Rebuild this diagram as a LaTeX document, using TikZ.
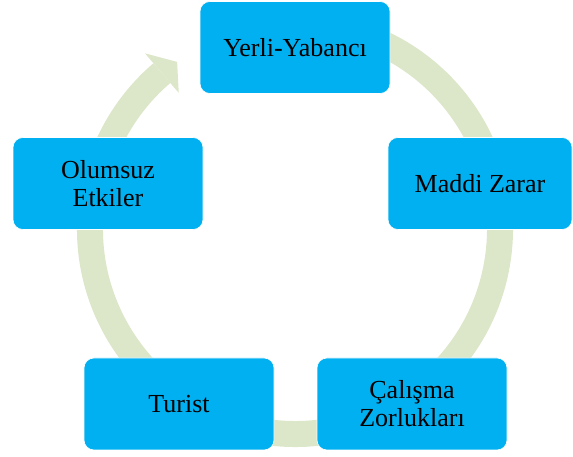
\documentclass[tikz,border=0pt]{standalone}
\usepackage{fontspec}
\setmainfont{Liberation Serif}
\definecolor{boxblue}{HTML}{00B0F0}
\definecolor{ringgreen}{HTML}{DCE6C8}
\begin{document}
\begin{tikzpicture}[x=1pt,y=1pt,
  cyclebox/.style={fill=boxblue, draw=white, line width=0.6pt, rounded corners=10pt,
    minimum width=190pt, minimum height=92pt, inner sep=0pt, align=center,
    font=\fontsize{26}{28}\selectfont, text=black},
  ring/.style={draw=ringgreen, line width=26pt}]
\useasboundingbox (0,0) rectangle (573,457);
\coordinate (c) at (295,228);
\draw[ring] ([shift={(80:205)}]c) arc[start angle=80, end angle=-229.5, radius=205];
\fill[ringgreen] ([shift={(130.5:231)}]c) -- ([shift={(125.2:204.5)}]c) -- ([shift={(130.5:179)}]c) -- cycle;
\node[cyclebox] (yerli) at (295,409.5) {Yerli-Yabancı};
\node[cyclebox, minimum width=184pt] (maddi) at (480,273.5) {Maddi Zarar};
\node[cyclebox] (calisma) at (412,53) {Çalışma\\Zorlukları};
\node[cyclebox] (turist) at (179,53) {Turist};
\node[cyclebox] (olumsuz) at (108,273.5) {Olumsuz\\Etkiler};
\end{tikzpicture}
\end{document}
